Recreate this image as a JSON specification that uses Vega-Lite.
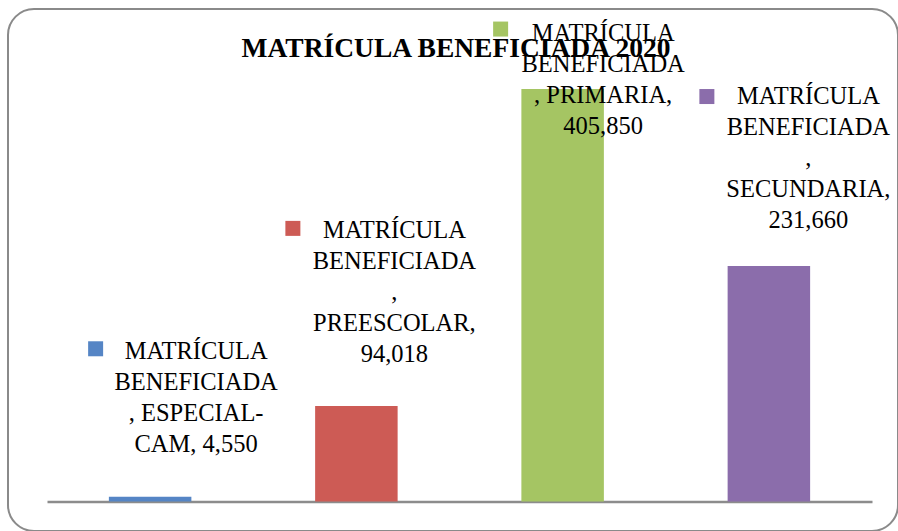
{
  "$schema": "https://vega.github.io/schema/vega-lite/v6.json",
  "width": 890,
  "height": 522,
  "autosize": {"type": "none"},
  "padding": {"left": 8, "top": 9, "right": 0, "bottom": 0},
  "background": "white",
  "config": {
    "view": {"stroke": "#8a8a8a", "strokeWidth": 2, "cornerRadius": 26},
    "font": "Liberation Serif"
  },
  "title": {
    "text": "MATRÍCULA BENEFICIADA 2020",
    "font": "Liberation Serif",
    "fontSize": 27.5,
    "fontWeight": "bold",
    "color": "#000000",
    "anchor": "middle",
    "frame": "group",
    "baseline": "alphabetic",
    "offset": -75.5,
    "dx": 3
  },
  "data": {
    "values": [
      {"nivel": "ESPECIAL-CAM", "matricula": 4550, "etiqueta": "MATRÍCULA\nBENEFICIADA\n, ESPECIAL-\nCAM, 4,550"},
      {"nivel": "PREESCOLAR", "matricula": 94018, "etiqueta": "MATRÍCULA\nBENEFICIADA\n,\nPREESCOLAR,\n94,018"},
      {"nivel": "PRIMARIA", "matricula": 405850, "etiqueta": "MATRÍCULA\nBENEFICIADA\n, PRIMARIA,\n405,850"},
      {"nivel": "SECUNDARIA", "matricula": 231660, "etiqueta": "MATRÍCULA\nBENEFICIADA\n,\nSECUNDARIA,\n231,660"}
    ]
  },
  "encoding": {
    "x": {
      "field": "nivel",
      "type": "nominal",
      "sort": null,
      "scale": {"range": [39, 864], "paddingInner": 0.6, "paddingOuter": 0.3},
      "axis": {"title": null, "labels": false, "ticks": false, "grid": false, "domain": true, "domainColor": "#8c8c8c", "domainWidth": 2.5, "offset": -29.5}
    },
    "y": {
      "field": "matricula",
      "type": "quantitative",
      "scale": {"domain": [0, 484650], "range": [492.4, 0], "nice": false, "zero": true},
      "axis": null
    }
  },
  "layer": [
    {
      "mark": {"type": "bar"},
      "encoding": {
        "color": {
          "field": "nivel", "type": "nominal", "sort": null, "legend": null,
          "scale": {"domain": ["ESPECIAL-CAM", "PREESCOLAR", "PRIMARIA", "SECUNDARIA"], "range": ["#5585C5", "#CD5B55", "#A5C563", "#8B6DAB"]}
        }
      }
    },
    {
      "transform": [{"filter": "datum.nivel == 'ESPECIAL-CAM'"}],
      "mark": {"type": "point", "shape": "square", "filled": true, "size": 225, "opacity": 1, "xOffset": -54.5, "yOffset": -148},
      "encoding": {"color": {"field": "nivel", "type": "nominal", "legend": null}}
    },
    {
      "transform": [{"filter": "datum.nivel == 'PREESCOLAR'"}],
      "mark": {"type": "point", "shape": "square", "filled": true, "size": 225, "opacity": 1, "xOffset": -63.5, "yOffset": -177.5},
      "encoding": {"color": {"field": "nivel", "type": "nominal", "legend": null}}
    },
    {
      "transform": [{"filter": "datum.nivel == 'PRIMARIA'"}],
      "mark": {"type": "point", "shape": "square", "filled": true, "size": 225, "opacity": 1, "xOffset": -62, "yOffset": -60},
      "encoding": {"color": {"field": "nivel", "type": "nominal", "legend": null}}
    },
    {
      "transform": [{"filter": "datum.nivel == 'SECUNDARIA'"}],
      "mark": {"type": "point", "shape": "square", "filled": true, "size": 225, "opacity": 1, "xOffset": -62, "yOffset": -169.5},
      "encoding": {"color": {"field": "nivel", "type": "nominal", "legend": null}}
    },
    {
      "transform": [{"filter": "datum.nivel == 'ESPECIAL-CAM'"}],
      "mark": {"type": "text", "font": "Liberation Serif", "fontSize": 24.5, "color": "#000000", "align": "center", "baseline": "top", "lineHeight": 31, "lineBreak": "\n", "dx": 46, "dy": -157},
      "encoding": {"text": {"field": "etiqueta", "type": "nominal"}}
    },
    {
      "transform": [{"filter": "datum.nivel == 'PREESCOLAR'"}],
      "mark": {"type": "text", "font": "Liberation Serif", "fontSize": 24.5, "color": "#000000", "align": "center", "baseline": "top", "lineHeight": 31, "lineBreak": "\n", "dx": 38, "dy": -187},
      "encoding": {"text": {"field": "etiqueta", "type": "nominal"}}
    },
    {
      "transform": [{"filter": "datum.nivel == 'PRIMARIA'"}],
      "mark": {"type": "text", "font": "Liberation Serif", "fontSize": 24.5, "color": "#000000", "align": "center", "baseline": "top", "lineHeight": 31, "lineBreak": "\n", "dx": 40.5, "dy": -67},
      "encoding": {"text": {"field": "etiqueta", "type": "nominal"}}
    },
    {
      "transform": [{"filter": "datum.nivel == 'SECUNDARIA'"}],
      "mark": {"type": "text", "font": "Liberation Serif", "fontSize": 24.5, "color": "#000000", "align": "center", "baseline": "top", "lineHeight": 31, "lineBreak": "\n", "dx": 39.5, "dy": -181},
      "encoding": {"text": {"field": "etiqueta", "type": "nominal"}}
    }
  ]
}
